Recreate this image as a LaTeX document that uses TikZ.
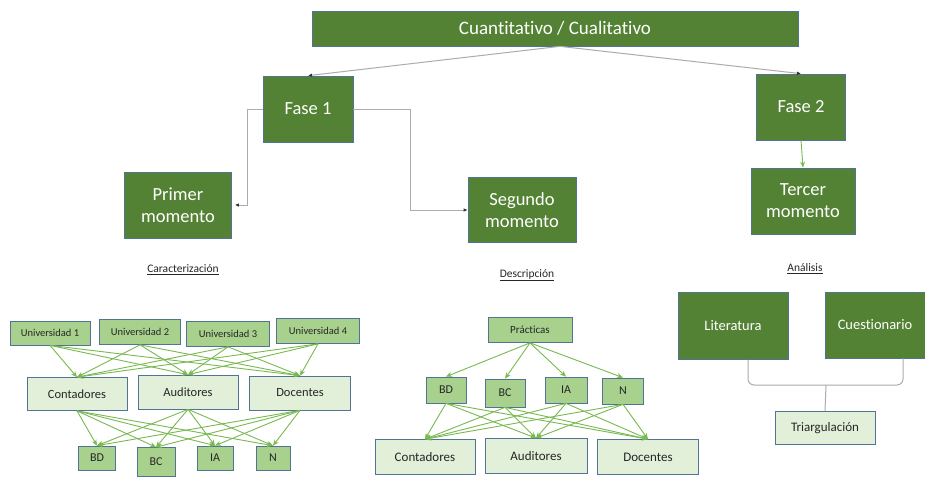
\documentclass[tikz,border=0pt]{standalone}
\usepackage{fontspec}
\setmainfont{Carlito}[Ligatures=NoCommon]
\usetikzlibrary{arrows.meta}
\definecolor{fasegreen}{RGB}{84,130,53}
\definecolor{midgreen}{RGB}{169,209,142}
\definecolor{palegreen}{RGB}{226,240,217}
\definecolor{edgeblue}{RGB}{80,115,150}
\definecolor{arrowgreen}{RGB}{120,185,80}
\definecolor{linegray}{RGB}{175,172,168}

\tikzset{
  darkbox/.style={draw=edgeblue, fill=fasegreen, text=white, line width=0.7pt, align=center, inner sep=0pt},
  midbox/.style={draw=edgeblue, fill=midgreen, text=black!85, line width=0.7pt, inner sep=0pt},
  palebox/.style={draw=edgeblue, fill=palegreen, text=black!85, line width=0.7pt, inner sep=0pt},
  greenarrow/.style={draw=arrowgreen, line width=0.9pt, -{Stealth[length=6pt,width=5pt]}},
  grayarrow/.style={draw=linegray, line width=1pt, -{Latex[length=4pt,width=3.5pt,color=black!80]}},
  bracket/.style={draw=linegray, line width=1pt, rounded corners=6pt},
  steplabel/.style={font=\fontsize{11.5}{13}\selectfont, text=black!85}
}

\begin{document}
\begin{tikzpicture}[x=1pt,y=-1pt]
        \useasboundingbox[fill=white] (0,0) rectangle (925,477);

        % Top level
        \node[darkbox, minimum width=486, minimum height=35, font=\fontsize{19}{22}\selectfont] (top) at (555,28.5) {Cuantitativo / Cualitativo};
        \node[darkbox, minimum width=90, minimum height=66, font=\fontsize{18.5}{22}\selectfont] (fase1) at (308,109) {Fase 1};
        \node[darkbox, minimum width=89, minimum height=66, font=\fontsize{18.5}{22}\selectfont] (fase2) at (801,107) {Fase 2};

        \node[darkbox, minimum width=107, minimum height=66, font=\fontsize{18.5}{22}\selectfont] (primer) at (178,205) {Primer\\momento};
        \node[darkbox, minimum width=108, minimum height=65, font=\fontsize{18.5}{22}\selectfont] (segundo) at (522,210) {Segundo\\momento};
        \node[darkbox, minimum width=104, minimum height=66, font=\fontsize{18.5}{22}\selectfont] (tercer) at (803,201) {Tercer\\momento};

        \draw[grayarrow] ([xshift=5]top.south) -- (fase1.north);
        \draw[grayarrow] ([xshift=5]top.south) -- (fase2.north);
        \draw[grayarrow] (fase1.west) -- ++(-15,0) |- ([xshift=3]primer.east);
        \draw[grayarrow] (fase1.east) -- ++(57,0) |- (segundo.west);
        \draw[greenarrow] (fase2.south) -- (tercer.north);

        \node[steplabel] (lcar) at (183,270) {\underline{Caracterización}};
        \node[steplabel] (ldes) at (527,275) {\underline{Descripción}};
        \node[steplabel] (lana) at (805,269) {\underline{Análisis}};

        % Caracterizacion
        \node[midbox, minimum width=80, minimum height=24, font=\fontsize{10.5}{12}\selectfont] (u1) at (50,333) {Universidad 1};
        \node[midbox, minimum width=81, minimum height=25, font=\fontsize{10.5}{12}\selectfont] (u2) at (140,332) {Universidad 2};
        \node[midbox, minimum width=83, minimum height=25, font=\fontsize{10.5}{12}\selectfont] (u3) at (228,334) {Universidad 3};
        \node[midbox, minimum width=83, minimum height=25, font=\fontsize{10.5}{12}\selectfont] (u4) at (318,331) {Universidad 4};

        \node[palebox, minimum width=100, minimum height=33, font=\fontsize{12.5}{14}\selectfont] (cont) at (77,394) {Contadores};
        \node[palebox, minimum width=100, minimum height=34, font=\fontsize{12.5}{14}\selectfont] (aud) at (188,392) {Auditores};
        \node[palebox, minimum width=101, minimum height=34, font=\fontsize{12.5}{14}\selectfont] (doc) at (300,393) {Docentes};

        \node[midbox, minimum width=37, minimum height=24, font=\fontsize{12}{14}\selectfont] (bd) at (97,458) {BD};
        \node[midbox, minimum width=38, minimum height=29, font=\fontsize{12}{14}\selectfont] (bc) at (156,462) {BC};
        \node[midbox, minimum width=36, minimum height=24, font=\fontsize{12}{14}\selectfont] (ia) at (215,458) {IA};
        \node[midbox, minimum width=34, minimum height=24, font=\fontsize{12}{14}\selectfont] (n) at (273,458) {N};

        \foreach \u in {u1,u2,u3,u4}
            \foreach \r in {cont,aud,doc}
                \draw[greenarrow] (\u.south) -- (\r.north);
        \foreach \r in {cont,aud,doc}
            \foreach \t in {bd,bc,ia,n}
                \draw[greenarrow] (\r.south) -- (\t.north);

        % Descripcion
        \node[midbox, minimum width=84, minimum height=25, font=\fontsize{11}{13}\selectfont] (prac) at (530,330) {Prácticas};

        \node[midbox, minimum width=40, minimum height=26, font=\fontsize{12}{14}\selectfont] (bd2) at (446,390) {BD};
        \node[midbox, minimum width=40, minimum height=28, font=\fontsize{12}{14}\selectfont] (bc2) at (505,393) {BC};
        \node[midbox, minimum width=42, minimum height=26, font=\fontsize{12}{14}\selectfont] (ia2) at (566,390) {IA};
        \node[midbox, minimum width=41, minimum height=26, font=\fontsize{12}{14}\selectfont] (n2) at (623,391) {N};

        \node[palebox, minimum width=100, minimum height=35, font=\fontsize{13}{15}\selectfont] (cont2) at (425,457) {Contadores};
        \node[palebox, minimum width=102, minimum height=35, font=\fontsize{13}{15}\selectfont] (aud2) at (536,456) {Auditores};
        \node[palebox, minimum width=101, minimum height=35, font=\fontsize{13}{15}\selectfont] (doc2) at (648,457) {Docentes};

        \foreach \t in {bd2,bc2,ia2,n2}
            \draw[greenarrow] (prac.south) -- (\t.north);
        \foreach \t in {bd2,bc2,ia2,n2}
            \foreach \r in {cont2,aud2,doc2}
                \draw[greenarrow] (\t.south) -- (\r.north);

        % Analisis
        \node[darkbox, minimum width=110, minimum height=67, font=\fontsize{14.5}{17}\selectfont] (lit) at (733,326) {Literatura};
        \node[darkbox, minimum width=100, minimum height=66, font=\fontsize{14.5}{17}\selectfont] (cues) at (875,325) {Cuestionario};
        \node[palebox, minimum width=100, minimum height=33, font=\fontsize{13}{15}\selectfont] (triang) at (825,428) {Triargulación};

        \coordinate (bj) at (826,385);
        \draw[bracket] ([xshift=15]lit.south) |- (bj) -| ([xshift=28]cues.south);
        \draw[bracket] (bj) -- (triang.north);
\end{tikzpicture}
\end{document}
